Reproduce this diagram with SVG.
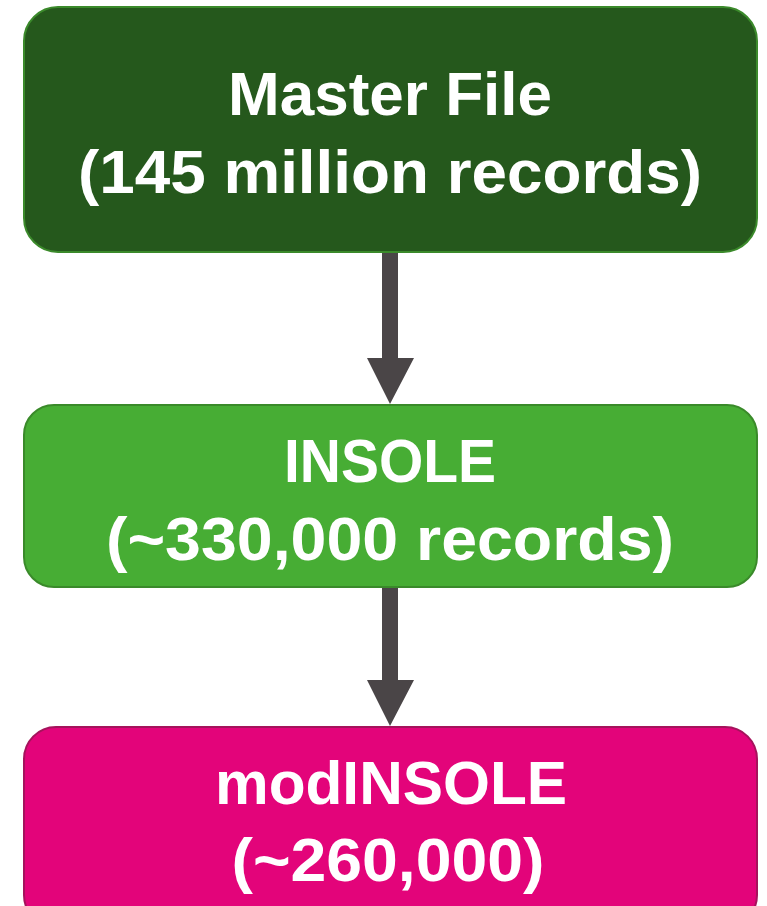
<svg xmlns="http://www.w3.org/2000/svg" width="767" height="906" viewBox="0 0 767 906">
<style>
.lbl{font-family:"Liberation Sans",Arial,sans-serif;font-weight:bold;font-size:62px;fill:#ffffff;text-anchor:middle}
.arrow{fill:#4a4547}
</style>
<rect width="767" height="906" fill="#ffffff"/>
<g id="connectors">
<path class="arrow" d="M382,253 H398 V358 H414 L390,404 L367,358 H382 Z"/>
<path class="arrow" d="M382,587 H398 V680 H414 L390,726 L367,680 H382 Z"/>
</g>
<g id="master">
<rect x="24" y="7" width="733" height="245" rx="34" fill="#25581c" stroke="#3b8a2b" stroke-width="2"/>
<text class="lbl" x="390" y="115" textLength="324" lengthAdjust="spacingAndGlyphs">Master File</text>
<text class="lbl" x="390" y="193" textLength="624" lengthAdjust="spacingAndGlyphs">(145 million records)</text>
</g>
<g id="insole">
<rect x="24" y="405" width="733" height="182" rx="30" fill="#47ad34" stroke="#3a8a2a" stroke-width="2"/>
<text class="lbl" x="390" y="482" textLength="212" lengthAdjust="spacingAndGlyphs">INSOLE</text>
<text class="lbl" x="390" y="560" textLength="568" lengthAdjust="spacingAndGlyphs">(~330,000 records)</text>
</g>
<g id="modinsole">
<rect x="24" y="727" width="733" height="200" rx="32" fill="#e3047a" stroke="#a5135c" stroke-width="2"/>
<text class="lbl" x="391" y="804" textLength="352" lengthAdjust="spacingAndGlyphs">modINSOLE</text>
<text class="lbl" x="388" y="881" textLength="313" lengthAdjust="spacingAndGlyphs">(~260,000)</text>
</g>
</svg>
